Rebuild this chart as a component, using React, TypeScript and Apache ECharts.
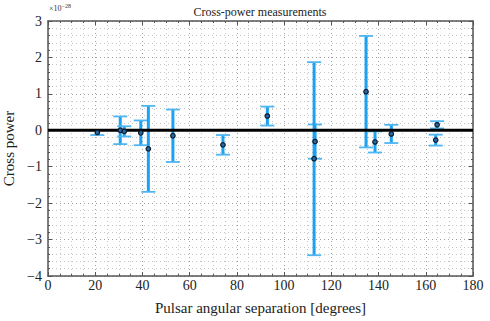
import React, { useEffect, useRef } from "react";
import * as echarts from "echarts";

const separation = [20.9, 30.6, 32.3, 39.3, 42.5, 52.9, 74.1, 92.9, 113.1, 112.7, 134.7, 138.5, 145.4, 164.8, 164.2];
const crossPower = [-0.06, 0.0, -0.03, -0.07, -0.51, -0.15, -0.4, 0.39, -0.31, -0.78, 1.06, -0.32, -0.1, 0.15, -0.27];
const powerError = [0.07, 0.38, 0.14, 0.34, 1.18, 0.72, 0.27, 0.26, 0.47, 2.65, 1.53, 0.29, 0.25, 0.1, 0.15];
const xTicks = [0, 20, 40, 60, 80, 100, 120, 140, 160, 180];
const yTicks = [-4, -3, -2, -1, 0, 1, 2, 3];

const FONT = "'Liberation Serif', 'Times New Roman', serif";
const FRAME = "#555";

export default function App() {
  const ref = useRef<HTMLDivElement>(null);
  useEffect(() => {
    if (!ref.current) return;
    const chart = echarts.init(ref.current, null, { renderer: "svg" });
    const errData = separation.map((x, i) => [x, crossPower[i], powerError[i]]);
    const ptData = separation.map((x, i) => [x, crossPower[i]]);
    const baseX = {
      type: "value",
      min: xTicks[0],
      max: xTicks[xTicks.length - 1],
      interval: 20,
      axisLine: { show: true, onZero: false, lineStyle: { color: FRAME, width: 1.5 } },
      axisTick: { show: true, inside: true, length: 4, lineStyle: { color: FRAME, width: 1 } },
      minorTick: { show: true, splitNumber: 4, length: 2, lineStyle: { color: FRAME, width: 1 } },
    };
    const baseY = {
      type: "value",
      min: yTicks[0],
      max: yTicks[yTicks.length - 1],
      interval: 1,
      axisLine: { show: true, onZero: false, lineStyle: { color: FRAME, width: 1.5 } },
      axisTick: { show: true, inside: true, length: 4, lineStyle: { color: FRAME, width: 1 } },
      minorTick: { show: true, splitNumber: 5, length: 2, lineStyle: { color: FRAME, width: 1 } },
    };
    const gridMajor = { show: true, lineStyle: { color: "#a0a0a0", type: [1, 3], width: 1 } };
    const gridMinor = { show: true, lineStyle: { color: "#c4c4c4", type: [1, 3], width: 1 } };
    chart.setOption({
      animation: false,
      backgroundColor: "#fff",
      title: {
        text: "Cross-power measurements",
        left: 260,
        textAlign: "center",
        top: 6,
        padding: 0,
        textStyle: { fontFamily: FONT, fontSize: 12, fontWeight: "normal", color: "#222" },
      },
      grid: { left: 48, right: 17, top: 21, bottom: 45, outerBoundsMode: "none", containLabel: false },
      xAxis: [
        {
          ...baseX,
          position: "bottom",
          name: "Pulsar angular separation [degrees]",
          nameLocation: "middle",
          nameGap: 24,
          nameTextStyle: { fontFamily: FONT, fontSize: 15, color: "#222" },
          axisLabel: { fontFamily: FONT, fontSize: 14, color: "#222", margin: 2 },
          splitLine: gridMajor,
          minorSplitLine: gridMinor,
        },
        { ...baseX, position: "top", axisLabel: { show: false }, splitLine: { show: false } },
      ],
      yAxis: [
        {
          ...baseY,
          position: "left",
          name: "Cross power",
          nameLocation: "middle",
          nameGap: 26,
          nameTextStyle: { fontFamily: FONT, fontSize: 15, color: "#222" },
          axisLabel: {
            fontFamily: FONT,
            fontSize: 14,
            color: "#222",
            margin: 6,
            formatter: (v: number) => (v < 0 ? "\u2212" + Math.abs(v) : String(v)),
          },
          splitLine: gridMajor,
          minorSplitLine: gridMinor,
        },
        { ...baseY, position: "right", axisLabel: { show: false }, splitLine: { show: false } },
      ],
      graphic: [
        {
          type: "text",
          left: 49,
          top: 3,
          style: {
            text: "{a|\u00d710}{b|\u221228}",
            rich: {
              a: { fontFamily: FONT, fontSize: 8, fill: "#333", verticalAlign: "bottom" },
              b: { fontFamily: FONT, fontSize: 6, fill: "#333", verticalAlign: "top", padding: [0, 0, 3, 0] },
            },
          },
        },
      ],
      series: [
        {
          type: "custom",
          z: 2,
          data: errData,
          renderItem: (params: any, api: any) => {
            const x = api.value(0);
            const y = api.value(1);
            const e = api.value(2);
            const top = api.coord([x, y + e]);
            const bot = api.coord([x, y - e]);
            const hw = 7;
            return {
              type: "group",
              children: [
                { type: "line", shape: { x1: top[0], y1: top[1], x2: bot[0], y2: bot[1] }, style: { stroke: "#1da1f2", lineWidth: 3 } },
                { type: "line", shape: { x1: top[0] - hw, y1: top[1], x2: top[0] + hw, y2: top[1] }, style: { stroke: "#4fb6f4", lineWidth: 1.8 } },
                { type: "line", shape: { x1: bot[0] - hw, y1: bot[1], x2: bot[0] + hw, y2: bot[1] }, style: { stroke: "#4fb6f4", lineWidth: 1.8 } },
              ],
            };
          },
        },
        {
          type: "line",
          z: 3,
          data: [[xTicks[0], 0], [xTicks[xTicks.length - 1], 0]],
          symbol: "none",
          lineStyle: { color: "#000", width: 3 },
        },
        {
          type: "scatter",
          z: 4,
          data: ptData,
          symbol: "circle",
          symbolSize: 4.5,
          itemStyle: { color: "#2a6aa0", borderColor: "#0a1c30", borderWidth: 1.2, opacity: 1 },
        },
      ],
    });
    return () => chart.dispose();
  }, []);
  return <div ref={ref} style={{ position: "absolute", left: 0, top: 0, width: 490, height: 321 }} />;
}
